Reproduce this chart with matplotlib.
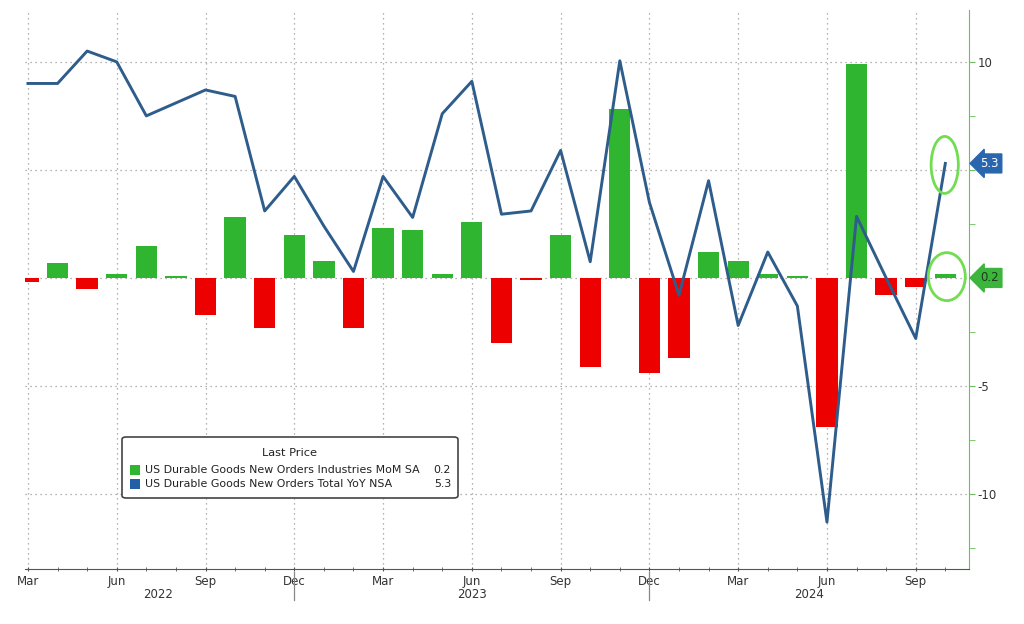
import numpy as np
import matplotlib
matplotlib.use('Agg')
import matplotlib.pyplot as plt
from matplotlib.patches import Ellipse, FancyBboxPatch, Rectangle
import matplotlib.transforms as mtransforms

# --- DATA (monthly, Mar 2022 .. Oct 2024) ---
months = ['Mar', 'Apr', 'May', 'Jun', 'Jul', 'Aug', 'Sep', 'Oct', 'Nov', 'Dec',
          'Jan', 'Feb', 'Mar', 'Apr', 'May', 'Jun', 'Jul', 'Aug', 'Sep', 'Oct', 'Nov', 'Dec',
          'Jan', 'Feb', 'Mar', 'Apr', 'May', 'Jun', 'Jul', 'Aug', 'Sep', 'Oct']
mom_sa = [-0.2, 0.7, -0.5, 0.2, 1.5, 0.1, -1.7, 2.8, -2.3, 2.0,
          0.8, -2.3, 2.3, 2.2, 0.2, 2.6, -3.0, -0.1, 2.0, -4.1, 7.8, -4.4,
          -3.7, 1.2, 0.8, 0.2, 0.1, -6.9, 9.9, -0.8, -0.4, 0.2]
yoy_nsa = [9.0, 9.0, 10.5, 10.0, 7.5, 8.1, 8.7, 8.4, 3.1, 4.7,
           2.4, 0.3, 4.7, 2.8, 7.6, 9.1, 2.95, 3.1, 5.9, 0.75, 10.05, 3.5,
           -0.8, 4.5, -2.2, 1.2, -1.3, -11.3, 2.85, 0.0, -2.8, 5.3]
years = ['2022', '2023', '2024']
year_pos = [4.4, 15.0, 26.4]
year_breaks = [9, 21]

GREEN = '#2fb52f'
RED = '#ec0000'
LINE = '#2e5d8c'
GRID = '#9a9a9a'

W, H = 1024, 624
fig = plt.figure(figsize=(W / 100, H / 100), dpi=100)
ax = fig.add_axes([25 / W, 1 - 569 / H, (969 - 25) / W, (569 - 10) / H])

x = np.arange(len(months))

# --- BARS + LINE ---
bar_colors = [GREEN if v >= 0 else RED for v in mom_sa]
ax.bar(x, mom_sa, width=0.72, color=bar_colors, zorder=2)
ax.plot(x, yoy_nsa, color=LINE, linewidth=2.1, zorder=3)

ax.set_xlim(-0.1, 31.8)
ax.set_ylim(-13.47, 12.4)

# --- AXES STYLING ---
for s in ['left', 'top']:
    ax.spines[s].set_visible(False)
ax.spines['right'].set_color('#6cbf5a')
ax.spines['bottom'].set_color('#555555')

ax.yaxis.tick_right()
ax.set_yticks([10, 5, 0, -5, -10])
# the 5 and 0 labels sit under the last-value tags
ax.set_yticklabels(['10', '', '', '-5', '-10'])
ax.set_yticks([7.5, 2.5, -2.5, -7.5, -12.5], minor=True)
ax.tick_params(axis='y', which='both', colors='#6cbf5a', labelcolor='#333333',
               labelsize=8.5, length=4, direction='out', pad=2)

major_x = [i for i, m in enumerate(months) if m in ('Mar', 'Jun', 'Sep', 'Dec')]
ax.set_xticks(major_x)
ax.set_xticklabels([months[i] for i in major_x])
ax.set_xticks(x, minor=True)
ax.tick_params(axis='x', which='both', colors='#555555', labelcolor='#333333',
               labelsize=8.5, length=3, direction='inout', pad=3)

for xv in major_x:
    ax.axvline(xv, color=GRID, linestyle=(0, (1, 3)), linewidth=0.9, zorder=0)
for yv in [10, 5, 0, -5, -10]:
    ax.axhline(yv, color=GRID, linestyle=(0, (1, 3)), linewidth=0.9, zorder=0)

# year labels and separators below the axis
trans = mtransforms.blended_transform_factory(ax.transData, fig.transFigure)
for yr, xp in zip(years, year_pos):
    ax.text(xp, 1 - 594 / H, yr, transform=trans, ha='center', va='center',
            fontsize=8.5, color='#333333')
for xb in year_breaks:
    ax.plot([xb, xb], [1 - 572 / H, 1 - 600 / H], transform=trans,
            color='#888888', linewidth=0.9, clip_on=False)

# --- LAST VALUE TAGS ---
tagtrans = mtransforms.blended_transform_factory(ax.transAxes, ax.transData)
ax.text(1.012, yoy_nsa[-1], f'{yoy_nsa[-1]:.1f}', transform=tagtrans, ha='left', va='center',
        fontsize=8.5, color='white', zorder=6, clip_on=False,
        bbox=dict(boxstyle='larrow,pad=0.25', fc='#2a66ad', ec='#2a66ad'))
ax.text(1.012, mom_sa[-1] - 0.2, f'{mom_sa[-1]:.1f}', transform=tagtrans, ha='left', va='center',
        fontsize=8.5, color='#1e3a1e', zorder=6, clip_on=False,
        bbox=dict(boxstyle='larrow,pad=0.25', fc='#3bb53b', ec='#3bb53b'))

# --- HIGHLIGHT ELLIPSES ---
ax.add_patch(Ellipse((30.98, 5.23), 0.92, 2.64, fill=False, ec='#72dc52', lw=2.0, zorder=5))
ax.add_patch(Ellipse((31.05, 0.06), 1.25, 2.22, fill=False, ec='#72dc52', lw=2.0, zorder=5))

# --- LEGEND (drawn by hand to mimic terminal style) ---
def fx(px):
    return px / W

def fy(py):
    return 1 - py / H

fig.patches.append(FancyBboxPatch((fx(122), fy(498)), fx(458) - fx(122), fy(437) - fy(498),
                                  boxstyle='round,pad=0,rounding_size=0.004',
                                  transform=fig.transFigure, fc='white', ec='#444444',
                                  lw=1.2, zorder=10))
fig.text(fx(290), fy(453), 'Last Price', ha='center', va='center', fontsize=8.2,
         color='#222222', zorder=11)
legend_rows = [
    (GREEN, 'US Durable Goods New Orders Industries MoM SA', mom_sa[-1], 470),
    ('#2160a6', 'US Durable Goods New Orders Total YoY NSA', yoy_nsa[-1], 484),
]
for col, label, val, py in legend_rows:
    fig.patches.append(Rectangle((fx(130), fy(py + 5)), fx(10), 10 / H,
                                 transform=fig.transFigure, fc=col, ec='none', zorder=11))
    fig.text(fx(145), fy(py), label, ha='left', va='center', fontsize=7.9,
             color='#222222', zorder=11)
    fig.text(fx(451), fy(py), f'{val:.1f}', ha='right', va='center', fontsize=7.9,
             color='#222222', zorder=11)

fig.savefig('out.png', dpi=100)
